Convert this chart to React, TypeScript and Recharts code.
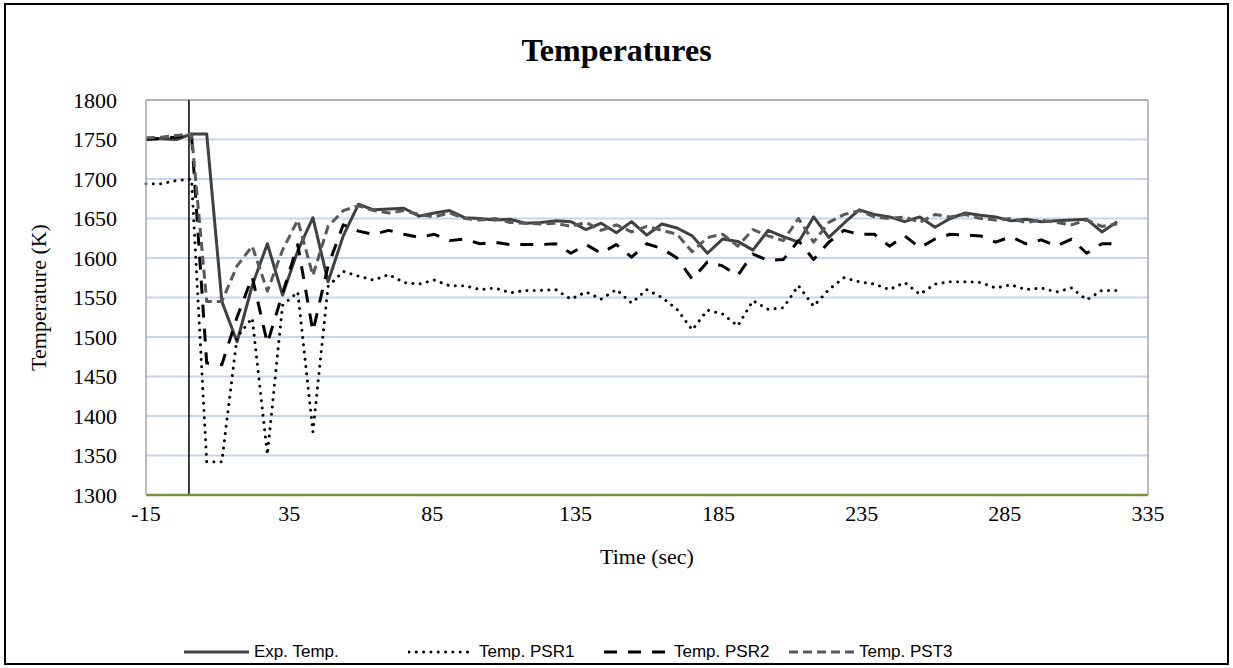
import React from 'react';
import { LineChart, Line, XAxis, YAxis, CartesianGrid, ReferenceLine, Label } from 'recharts';

// sample times (sec), shared by all series
const times = [
  -15, -9.7, -4.4, 0.9, 6.2, 11.5, 16.8, 22.1, 27.4, 32.7, 38, 43.3, 48.6, 53.9, 59.2, 64.5,
  69.8, 75.1, 80.4, 85.7, 91, 96.3, 101.6, 106.9, 112.2, 117.5, 122.8, 128.1, 133.4, 138.7, 144, 149.3,
  154.6, 159.9, 165.2, 170.5, 175.8, 181.1, 186.4, 191.7, 197, 202.3, 207.6, 212.9, 218.2, 223.5, 228.8, 234.1,
  239.4, 244.7, 250, 255.3, 260.6, 265.9, 271.2, 276.5, 281.8, 287.1, 292.4, 297.7, 303, 308.3, 313.6, 318.9, 324.2,
];

const expTemp = [
  1752, 1751, 1750, 1757, 1757, 1545, 1494, 1565, 1618, 1553, 1609, 1651, 1570, 1628, 1668, 1661,
  1662, 1663, 1653, 1657, 1660, 1651, 1650, 1648, 1649, 1644, 1645, 1647, 1646, 1636, 1644, 1632,
  1646, 1629, 1643, 1638, 1628, 1606, 1624, 1621, 1610, 1635, 1627, 1620, 1652, 1626, 1644, 1661,
  1655, 1652, 1646, 1652, 1639, 1650, 1657, 1654, 1652, 1647, 1649, 1646, 1647, 1648, 1649, 1633, 1646,
];

const psr1 = [
  1694, 1694, 1698, 1700, 1342, 1342, 1500, 1524, 1351, 1540, 1557, 1380, 1564, 1583, 1577, 1572,
  1579, 1569, 1567, 1572, 1565, 1565, 1560, 1562, 1556, 1559, 1559, 1560, 1548, 1557, 1548, 1560,
  1543, 1560, 1550, 1535, 1509, 1534, 1529, 1514, 1546, 1535, 1537, 1565, 1539, 1560, 1575, 1570,
  1567, 1560, 1569, 1554, 1567, 1570, 1570, 1569, 1562, 1566, 1560, 1562, 1557, 1562, 1547, 1559, 1559,
];

const psr2 = [
  1750, 1751, 1753, 1756, 1467, 1465, 1525, 1576, 1492, 1555, 1617, 1507, 1590, 1642, 1634, 1630,
  1635, 1630, 1626, 1630, 1622, 1624, 1618, 1620, 1617, 1617, 1617, 1618, 1606, 1617, 1606, 1617,
  1601, 1618, 1612, 1600, 1573, 1595, 1590, 1578, 1605, 1597, 1598, 1622, 1598, 1620, 1635, 1630,
  1630, 1615, 1628, 1613, 1624, 1630, 1629, 1628, 1620, 1627, 1618, 1623, 1615, 1624, 1606, 1618, 1618,
];

const pst3 = [
  1752, 1753, 1755, 1757, 1545, 1545, 1590, 1615, 1558, 1610, 1648, 1578, 1640, 1660, 1666, 1660,
  1657, 1660, 1655, 1652, 1657, 1650, 1648, 1650, 1645, 1644, 1643, 1644, 1640, 1645, 1635, 1642,
  1633, 1640, 1635, 1630, 1608, 1626, 1630, 1615, 1636, 1628, 1622, 1650, 1620, 1645, 1655, 1660,
  1652, 1650, 1652, 1645, 1655, 1652, 1655, 1650, 1648, 1650, 1645, 1648, 1645, 1642, 1648, 1640, 1643,
];

const xTicks = [-15, 35, 85, 135, 185, 235, 285, 335];
const yTicks = [1300, 1350, 1400, 1450, 1500, 1550, 1600, 1650, 1700, 1750, 1800];

const seriesStyle = [
  { key: 'exp', name: 'Exp. Temp.', color: '#404040', dash: undefined, cap: 'butt' },
  { key: 'psr1', name: 'Temp. PSR1', color: '#000000', dash: '0.01 7.3', cap: 'round' },
  { key: 'psr2', name: 'Temp. PSR2', color: '#000000', dash: '13 11', cap: 'butt' },
  { key: 'pst3', name: 'Temp. PST3', color: '#595959', dash: '9 5', cap: 'butt' },
];

const legendLeft = [183, 408, 603, 788];

const data = times.map((t, i) => ({
  t,
  exp: expTemp[i],
  psr1: psr1[i],
  psr2: psr2[i],
  pst3: pst3[i],
}));

const serif = "'Liberation Serif', 'Times New Roman', serif";

export default function App() {
  return (
    <div style={{ position: 'fixed', left: 0, top: 0, width: 1233, height: 668, background: '#fff', overflow: 'hidden' }}>
      <div style={{ position: 'absolute', left: 4, top: 3, width: 1221, height: 658, border: '2px solid #000' }} />
      <div style={{ position: 'absolute', left: 0, width: 1233, top: 32, textAlign: 'center', fontFamily: serif, fontWeight: 'bold', fontSize: 32 }}>
        Temperatures
      </div>
      <div style={{ position: 'absolute', left: 0, top: 0 }}>
        <LineChart width={1233} height={668} data={data} margin={{ top: 100, right: 85, bottom: 98, left: 46 }}>
          <CartesianGrid horizontal vertical={false} stroke="#c6d6ec" strokeWidth={2} />
          <XAxis
            dataKey="t"
            type="number"
            domain={[-15, 335]}
            ticks={xTicks}
            height={75}
            tickLine={false}
            tickSize={0}
            tickMargin={10}
            axisLine={{ stroke: '#77933c', strokeWidth: 2.5 }}
            tick={{ fill: '#000', fontSize: 22, fontFamily: serif }}
          >
            <Label value="Time (sec)" position="insideBottom" offset={6} style={{ fill: '#000', fontSize: 22, fontFamily: serif }} />
          </XAxis>
          <YAxis
            type="number"
            domain={[1300, 1800]}
            ticks={yTicks}
            width={100}
            tickLine={false}
            tickSize={0}
            tickMargin={29}
            axisLine={{ stroke: '#a6a6a6', strokeWidth: 1.5 }}
            tick={{ fill: '#000', fontSize: 22, fontFamily: serif }}
          >
            <Label value="Temperature (K)" angle={-90} position="insideLeft" offset={-8} style={{ fill: '#000', fontSize: 22, fontFamily: serif, textAnchor: 'middle' }} />
          </YAxis>
          <ReferenceLine y={1800} stroke="#a6a6a6" strokeWidth={1.5} />
          <ReferenceLine x={335} stroke="#a6a6a6" strokeWidth={1.5} />
          <ReferenceLine x={0} stroke="#000" strokeWidth={1.5} />
          {seriesStyle.map((s) => (
            <Line
              key={s.key}
              type="linear"
              dataKey={s.key}
              name={s.name}
              stroke={s.color}
              strokeWidth={3}
              strokeDasharray={s.dash}
              strokeLinecap={s.cap as 'butt' | 'round'}
              strokeLinejoin="round"
              dot={false}
              activeDot={false}
              isAnimationActive={false}
            />
          ))}
        </LineChart>
      </div>
      {seriesStyle.map((s, i) => (
        <div
          key={s.key}
          style={{ position: 'absolute', left: legendLeft[i], top: 640, height: 24, display: 'flex', alignItems: 'center', gap: 4 }}
        >
          <svg width={67} height={10}>
            <line x1={1} y1={5} x2={66} y2={5} stroke={s.color} strokeWidth={3} strokeDasharray={s.dash} strokeLinecap={s.cap as 'butt' | 'round'} />
          </svg>
          <span style={{ fontFamily: "'Liberation Sans Narrow', 'Liberation Sans', sans-serif", fontSize: 17, color: '#000' }}>{s.name}</span>
        </div>
      ))}
    </div>
  );
}
